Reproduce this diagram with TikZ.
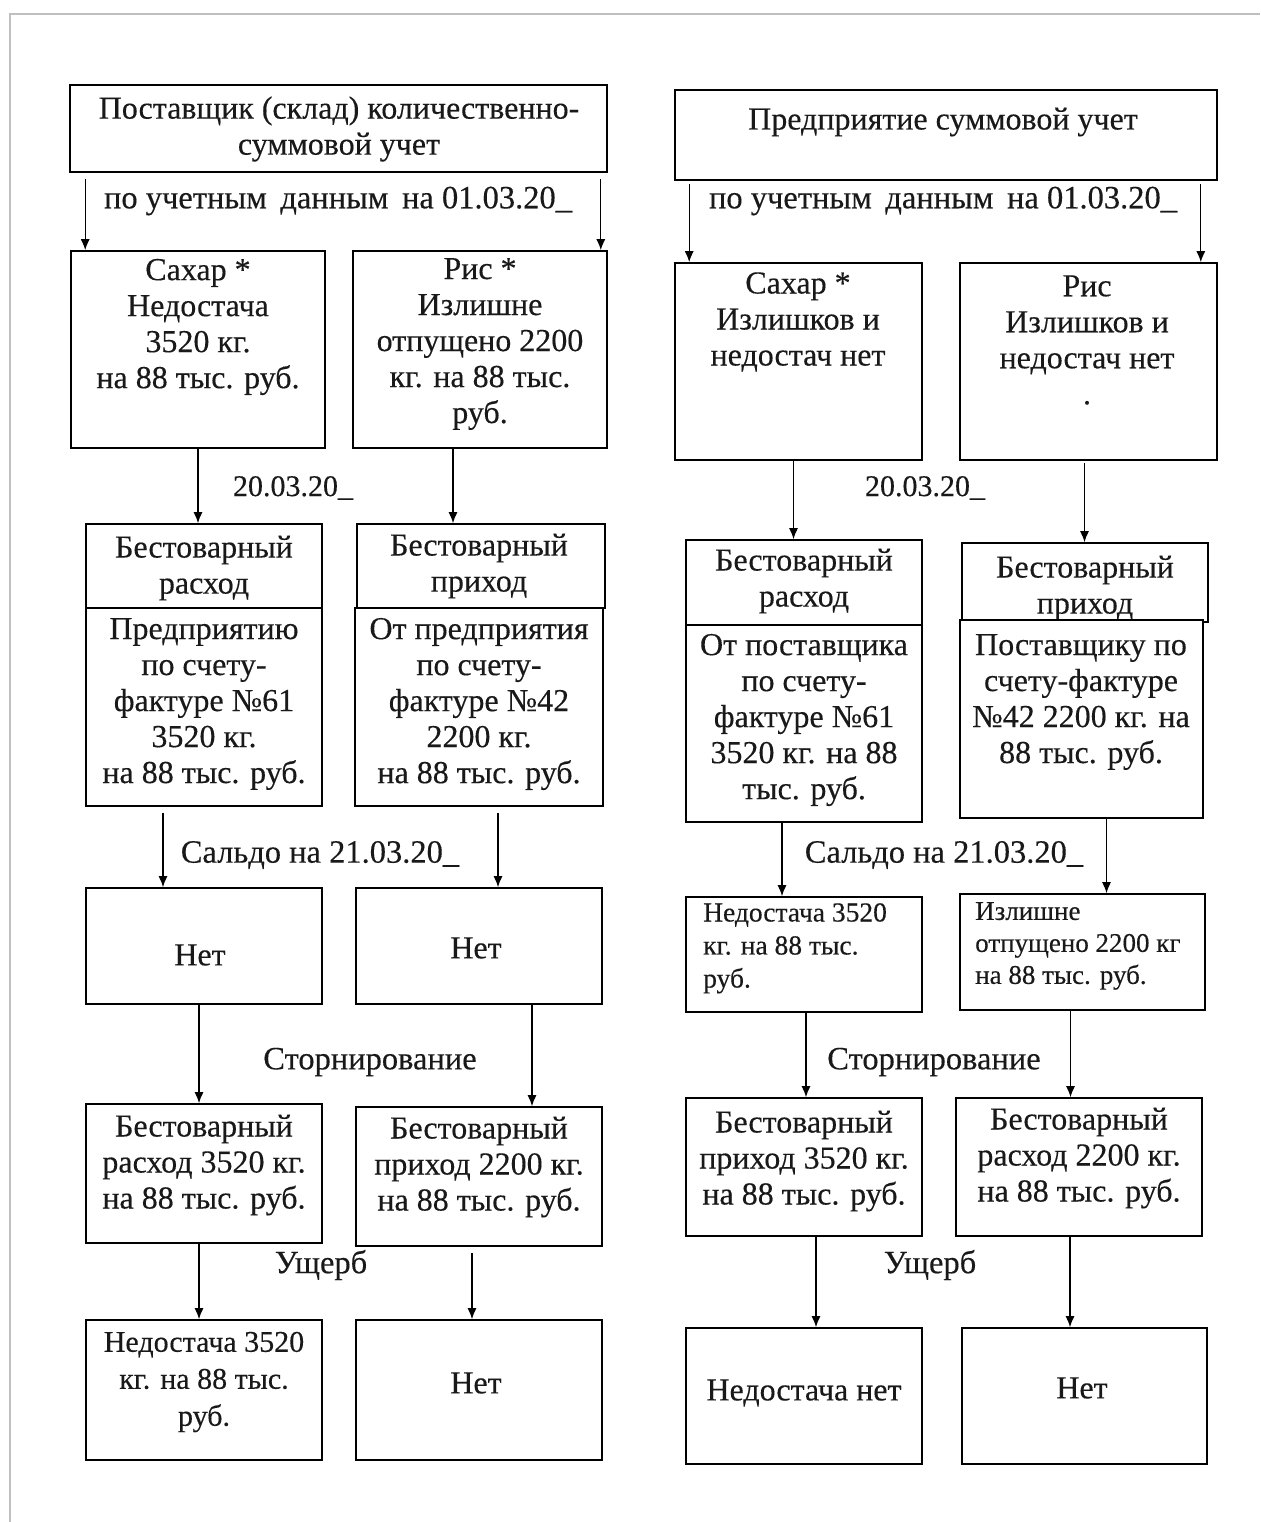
\documentclass[tikz,border=0pt]{standalone}
\usepackage{fontspec}
\setmainfont{Liberation Serif}
\newfontfamily\heavyserif{Liberation Serif}[FakeBold=0.3]
\usetikzlibrary{arrows.meta,fit}
\begin{document}
\begin{tikzpicture}[x=1pt,y=-1pt,
  box/.style={draw=black,line width=1.6pt,fill=white,inner sep=0pt,rectangle},
  txt/.style={font=\heavyserif\fontsize{32}{36}\selectfont,align=center,inner sep=0pt,text=black!90},
  smalltxt/.style={font=\heavyserif\fontsize{27.5}{33}\selectfont,align=left,inner sep=0pt,text=black!90,anchor=north west},
  lbl/.style={font=\heavyserif\fontsize{32.5}{36}\selectfont,inner sep=0pt,text=black!90},
  datelbl/.style={font=\heavyserif\fontsize{30}{36}\selectfont,inner sep=0pt,text=black!90},
  arr/.style={line width=1.3pt,-{Latex[length=11pt,width=9pt]}}]
\useasboundingbox (0,0) rectangle (1260,1522);
\fill[white] (0,0) rectangle (1260,1522);
% page frame
\draw[black!25,line width=2.5pt] (10,1522) coordinate (fa) -- (10,14) coordinate (fb) -- (1260,14) coordinate (fc);

% ---------- Row 0 ----------
\node[box,fit={(70,85) (607,172)}] (L0) {};
\node[txt] (tL0) at (339,129) {Поставщик (склад) количественно-\\суммовой учет};
\node[box,fit={(675,90) (1217,180)}] (R0) {};
\node[txt] (tR0) at (943,122) {Предприятие суммовой учет};

% ---------- Row 1 ----------
\node[box,fit={(71,251) (325,448)}] (LA) {};
\node[txt] (tLA) at (198,327) {Сахар *\\Недостача\\3520 кг.\\на 88 тыс. руб.};
\node[box,fit={(353,251) (607,448)}] (LB) {};
\node[txt] (tLB) at (480,344) {Рис *\\Излишне\\отпущено 2200\\кг. на 88 тыс.\\руб.};
\node[box,fit={(675,263) (922,460)}] (RA) {};
\node[txt] (tRA) at (798,322) {Сахар *\\Излишков и\\недостач нет};
\node[box,fit={(960,263) (1217,460)}] (RB) {};
\node[txt] (tRB) at (1087,340) {Рис\\Излишков и\\недостач нет\\.};

\node[lbl] (l1L) at (338,201) {по учетным\, данным\, на 01.03.20\_};
\node[lbl] (l1R) at (943,201) {по учетным\, данным\, на 01.03.20\_};
\draw[arr] ([xshift=16pt,yshift=-6pt]L0.south west) -- ([xshift=15pt]LA.north west);
\draw[arr] ([xshift=-7pt,yshift=-6pt]L0.south east) -- ([xshift=-7pt]LB.north east);
\draw[arr] ([xshift=15pt,yshift=-3pt]R0.south west) -- ([xshift=15pt]RA.north west);
\draw[arr] ([xshift=-17pt,yshift=-3pt]R0.south east) -- ([xshift=-17pt]RB.north east);

% ---------- Row 2 ----------
\node[box,fit={(86,524) (322,608)}] (LCh) {};
\node[txt] (tLCh) at (204,568) {Бестоварный\\расход};
\node[box,fit={(86,608) (322,806)}] (LCb) {};
\node[txt] (tLCb) at (204,704) {Предприятию\\по счету-\\фактуре №61\\3520 кг.\\на 88 тыс. руб.};
\node[box,fit={(357,524) (605,608)}] (LDh) {};
\node[txt] (tLDh) at (479,566) {Бестоварный\\приход};
\node[box,fit={(355,608) (603,806)}] (LDb) {};
\node[txt] (tLDb) at (479,704) {От предприятия\\по счету-\\фактуре №42\\2200 кг.\\на 88 тыс. руб.};

\node[box,fit={(686,540) (922,625)}] (RCh) {};
\node[txt] (tRCh) at (804,581) {Бестоварный\\расход};
\node[box,fit={(686,625) (922,822)}] (RCb) {};
\node[txt] (tRCb) at (804,720) {От поставщика\\по счету-\\фактуре №61\\3520 кг. на 88\\тыс. руб.};
\node[box,fit={(962,543) (1208,622)}] (RDh) {};
\node[txt] (tRDh) at (1085,588) {Бестоварный\\приход};
\node[box,fit={(960,620) (1203,818)}] (RDb) {};
\node[txt] (tRDb) at (1081,702) {Поставщику по\\счету-фактуре\\№42 2200 кг. на\\88 тыс. руб.};

\node[datelbl] (l2L) at (293,488) {20.03.20\_};
\node[datelbl] (l2R) at (925,488) {20.03.20\_};
\draw[arr] (LA.south) -- (LA.south |- LCh.north);
\draw[arr] ([xshift=-27pt]LB.south) -- ([xshift=-27pt]LB.south |- LDh.north);
\draw[arr] ([xshift=-5pt]RA.south) -- ([xshift=-5pt]RA.south |- RCh.north);
\draw[arr] ([xshift=-4pt,yshift=-2pt]RB.south) -- ([xshift=-4pt]RB.south |- RDh.north);

% ---------- Row 3 ----------
\node[box,fit={(86,888) (322,1004)}] (LE) {};
\node[txt] (tLE) at (200,955) {Нет};
\node[box,fit={(356,888) (602,1004)}] (LF) {};
\node[txt] (tLF) at (476,948) {Нет};
\node[box,fit={(686,897) (922,1012)}] (RE) {};
\node[smalltxt] (tRE) at (703,903) {Недостача 3520\\кг. на 88 тыс.\\руб.};
\node[box,fit={(960,894) (1205,1010)}] (RF) {};
\node[smalltxt,font=\heavyserif\fontsize{27}{32}\selectfont] (tRF) at (975,902) {Излишне\\отпущено 2200 кг\\на 88 тыс. руб.};

\node[lbl] (l3L) at (320,855) {Сальдо на 21.03.20\_};
\node[lbl] (l3R) at (944,855) {Сальдо на 21.03.20\_};
\draw[arr] ([xshift=-41pt,yshift=-6pt]LCb.south) -- ([xshift=-41pt]LCb.south |- LE.north);
\draw[arr] ([xshift=19pt,yshift=-6pt]LDb.south) -- ([xshift=19pt]LDb.south |- LF.north);
\draw[arr] ([xshift=-22pt]RCb.south) -- ([xshift=-22pt]RCb.south |- RE.north);
\draw[arr] ([xshift=25pt]RDb.south) -- ([xshift=25pt]RDb.south |- RF.north);

% ---------- Row 4 ----------
\node[box,fit={(86,1104) (322,1243)}] (LG) {};
\node[txt] (tLG) at (204,1165) {Бестоварный\\расход 3520 кг.\\на 88 тыс. руб.};
\node[box,fit={(356,1107) (602,1246)}] (LH) {};
\node[txt] (tLH) at (479,1167) {Бестоварный\\приход 2200 кг.\\на 88 тыс. руб.};
\node[box,fit={(686,1098) (922,1236)}] (RG) {};
\node[txt] (tRG) at (804,1161) {Бестоварный\\приход 3520 кг.\\на 88 тыс. руб.};
\node[box,fit={(956,1098) (1202,1236)}] (RH) {};
\node[txt] (tRH) at (1079,1158) {Бестоварный\\расход 2200 кг.\\на 88 тыс. руб.};

\node[lbl] (l4L) at (370,1062) {Сторнирование};
\node[lbl] (l4R) at (934,1062) {Сторнирование};
\draw[arr] ([xshift=-5pt]LE.south) -- ([xshift=-5pt]LE.south |- LG.north);
\draw[arr] ([xshift=53pt]LF.south) -- ([xshift=53pt]LF.south |- LH.north);
\draw[arr] ([xshift=2pt]RE.south) -- ([xshift=2pt]RE.south |- RG.north);
\draw[arr] ([xshift=-12pt]RF.south) -- ([xshift=-12pt]RF.south |- RH.north);

% ---------- Row 5 ----------
\node[box,fit={(86,1320) (322,1460)}] (LI) {};
\node[txt,font=\heavyserif\fontsize{30}{37}\selectfont] (tLI) at (204,1382) {Недостача 3520\\кг. на 88 тыс.\\руб.};
\node[box,fit={(356,1320) (602,1460)}] (LJ) {};
\node[txt] (tLJ) at (476,1383) {Нет};
\node[box,fit={(686,1328) (922,1464)}] (RI) {};
\node[txt] (tRI) at (804,1393) {Недостача нет};
\node[box,fit={(962,1328) (1207,1464)}] (RJ) {};
\node[txt] (tRJ) at (1082,1388) {Нет};

\node[lbl] (l5L) at (321,1265) {Ущерб};
\node[lbl] (l5R) at (930,1265) {Ущерб};
\draw[arr] ([xshift=-5pt]LG.south) -- ([xshift=-5pt]LG.south |- LI.north);
\draw[arr] ([xshift=-7pt,yshift=-6pt]LH.south) -- ([xshift=-7pt]LH.south |- LJ.north);
\draw[arr] ([xshift=12pt]RG.south) -- ([xshift=12pt]RG.south |- RI.north);
\draw[arr] ([xshift=-9pt]RH.south) -- ([xshift=-9pt]RH.south |- RJ.north);
\end{tikzpicture}
\end{document}
